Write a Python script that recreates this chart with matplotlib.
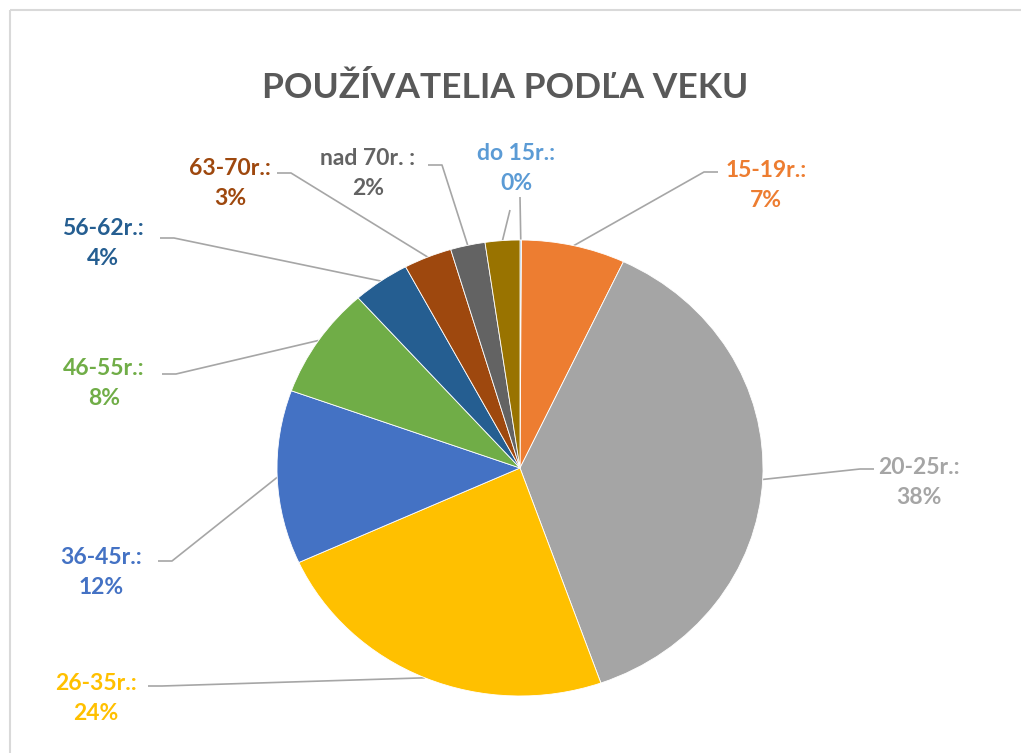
import numpy as np
import matplotlib

matplotlib.use("Agg")
import matplotlib.pyplot as plt
from matplotlib.patches import Rectangle

# age groups, clockwise from 12 o'clock
labels = ["do 15r.:", "15-19r.:", "20-25r.:", "26-35r.:", "36-45r.:",
          "46-55r.:", "56-62r.:", "63-70r.:", "nad 70r. :", ""]
values = [0.1, 6.9, 37.6, 23.6, 12.3, 7.9, 3.8, 3.2, 2.3, 2.3]
pct_text = ["0%", "7%", "38%", "24%", "12%", "8%", "4%", "3%", "2%", ""]
colors = ["#5B9BD5", "#ED7D31", "#A5A5A5", "#FFC000", "#4472C4",
          "#70AD47", "#255E91", "#9E480E", "#636363", "#997300"]

# label placement (pixels): text centre, start of leader line next to the text
label_pos = [(516, 153), (766, 170), (919, 467), (96, 684), (101, 557),
             (104, 368), (103, 228), (230, 168), (368, 158), (510, 200)]
line_start = [(520, 197), (718, 172), (874, 469), (148, 686), (158, 561),
              (162, 374), (160, 238), (277, 173), (428, 165), (510, 210)]

W, H = 1021, 753
fig = plt.figure(figsize=(W / 100, H / 100), dpi=100)
plt.rcParams["font.family"] = ["Lato", "DejaVu Sans"]

# overlay in pixel coordinates
ov = fig.add_axes([0, 0, 1, 1])
ov.set_xlim(0, W)
ov.set_ylim(H, 0)
ov.axis("off")
ov.add_patch(Rectangle((10, 10), W + 20, H + 20, fill=False,
                       edgecolor="#D9D9D9", linewidth=1.5))

cx, cy, rx, ry = 520, 468, 243, 228
pax = fig.add_axes([(cx - rx) / W, 1 - (cy + ry) / H, 2 * rx / W, 2 * ry / H])
wedges, _ = pax.pie(values, colors=colors, startangle=90, counterclock=False,
                    radius=1, wedgeprops=dict(linewidth=0.6, edgecolor="white"))
pax.set_xlim(-1, 1)
pax.set_ylim(-1, 1)
pax.set_aspect("auto")
pax.axis("off")

fig.text(505 / W, 1 - 88 / H, "POUŽÍVATELIA PODĽA VEKU", ha="center", va="center",
         fontsize=25.5, fontweight="bold", color="#595959")

line_kw = dict(color="#A6A6A6", lw=1.2, solid_capstyle="butt")
for w, lab, pct, col, (tx, ty), (sx, sy) in zip(wedges, labels, pct_text, colors,
                                                 label_pos, line_start):
    mid = np.deg2rad((w.theta1 + w.theta2) / 2)
    px = cx + rx * np.cos(mid)
    py = cy - ry * np.sin(mid)
    if lab == "do 15r.:" or not lab:
        ov.plot([sx, px], [sy, py], **line_kw)
    else:
        side = 1 if tx < cx else -1
        ex = sx + side * 14
        ov.plot([sx, ex, px], [sy, sy, py], **line_kw)
    if lab:
        ov.text(tx, ty, lab, ha="center", va="center", fontsize=16.5,
                fontweight="bold", color=col)
        ov.text(tx, ty + 30, pct, ha="center", va="center", fontsize=16.5,
                fontweight="bold", color=col)

fig.savefig("out.png", dpi=100)
